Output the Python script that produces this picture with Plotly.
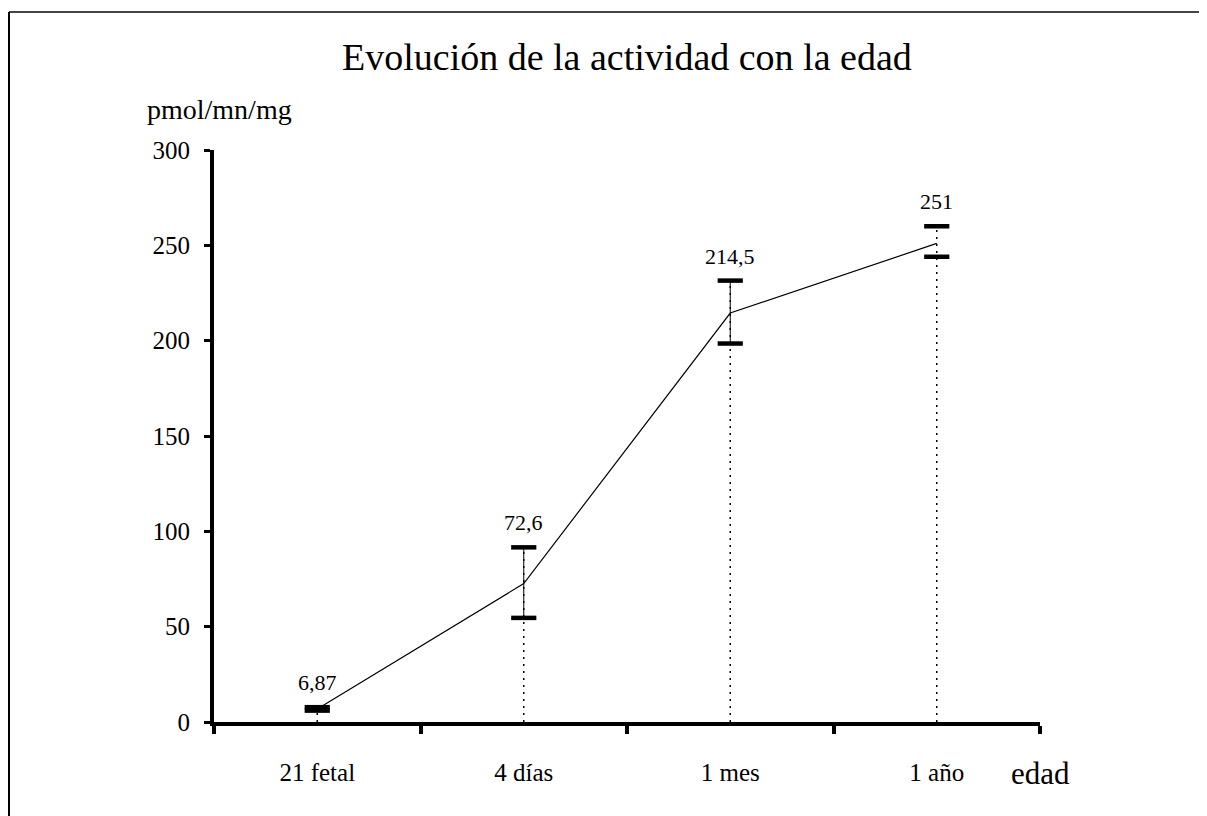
import plotly.graph_objects as go

# ---- data ----
categories = ["21 fetal", "4 días", "1 mes", "1 año"]
values = [6.87, 72.6, 214.5, 251]
err_up = [0.9, 19, 17, 9]
err_down = [0.9, 18, 16, 7]
value_labels = ["6,87", "72,6", "214,5", "251"]
y_ticks = [0, 50, 100, 150, 200, 250, 300]
solid_error_line = [True, True, True, False]

FONT = "Liberation Serif"

# page offset (body margin of 8px) compensated in margins
W, H = 1199, 808
L, T, PW, PH = 206, 142, 826, 572

def px(x_page):
    return (x_page - 214) / PW

def py(y_page):
    return (722 - y_page) / PH

uppers = [v + e for v, e in zip(values, err_up)]
lowers = [v - e for v, e in zip(values, err_down)]

fig = go.Figure()

# dotted drop lines from axis up to the upper cap
dx, dy = [], []
for c, u in zip(categories, uppers):
    dx += [c, c, None]
    dy += [0, u, None]
fig.add_trace(go.Scatter(x=dx, y=dy, mode="lines",
                         line=dict(color="black", width=1.5, dash="2px,5px"),
                         hoverinfo="skip", showlegend=False))

# solid error lines
ex, ey = [], []
for c, u, l, s in zip(categories, uppers, lowers, solid_error_line):
    if s:
        ex += [c, c, None]
        ey += [l, u, None]
fig.add_trace(go.Scatter(x=ex, y=ey, mode="lines",
                         line=dict(color="black", width=1),
                         hoverinfo="skip", showlegend=False))

# main line
fig.add_trace(go.Scatter(x=categories, y=values, mode="lines",
                         line=dict(color="black", width=1.2),
                         showlegend=False))

# caps
fig.add_trace(go.Scatter(x=categories + categories, y=uppers + lowers, mode="markers",
                         marker=dict(symbol="line-ew", size=18,
                                     line=dict(color="black", width=4.5)),
                         hoverinfo="skip", showlegend=False))

annotations = []
for c, u, t in zip(categories, uppers, value_labels):
    annotations.append(dict(x=c, y=u, xref="x", yref="y", text=t, showarrow=False,
                            yanchor="bottom", yshift=10,
                            font=dict(family=FONT, size=22, color="black")))

annotations += [
    dict(text="Evolución de la actividad con la edad", xref="paper", yref="paper",
         x=0.5, y=py(57), xanchor="center", yanchor="middle", showarrow=False,
         font=dict(family=FONT, size=38, color="black")),
    dict(text="pmol/mn/mg", xref="paper", yref="paper",
         x=px(145), y=py(110), xanchor="left", yanchor="middle",
         showarrow=False, font=dict(family=FONT, size=28, color="black")),
    dict(text="edad", xref="paper", yref="paper",
         x=px(1040), y=py(773), xanchor="center", yanchor="middle",
         showarrow=False, font=dict(family=FONT, size=31, color="black")),
]

shapes = [
    dict(type="line", xref="paper", yref="paper",
         x0=px(9), x1=px(1215), y0=py(12), y1=py(12),
         line=dict(color="#444444", width=2)),
    dict(type="line", xref="paper", yref="paper",
         x0=px(9), x1=px(9), y0=py(12), y1=py(830),
         line=dict(color="black", width=2)),
]

fig.update_layout(
    width=W, height=H,
    margin=dict(l=L, r=W - L - PW, t=T, b=H - T - PH),
    paper_bgcolor="white", plot_bgcolor="white",
    showlegend=False,
    annotations=annotations,
    shapes=shapes,
    xaxis=dict(type="category", categoryorder="array", categoryarray=categories,
               range=[-0.5, 3.5], tickson="boundaries", ticks="outside",
               ticklen=8, tickwidth=4, tickcolor="black",
               showline=True, linewidth=4, linecolor="black",
               showgrid=False, zeroline=False,
               tickfont=dict(family=FONT, size=25, color="black"),
               ticklabelstandoff=25),
    yaxis=dict(range=[0, 300], tickvals=y_ticks, ticks="outside",
               ticklen=6, tickwidth=3, tickcolor="black",
               showline=True, linewidth=4, linecolor="black",
               showgrid=False, zeroline=False,
               tickfont=dict(family=FONT, size=25, color="black"),
               ticklabelstandoff=9),
)

fig.write_html("out.html")
